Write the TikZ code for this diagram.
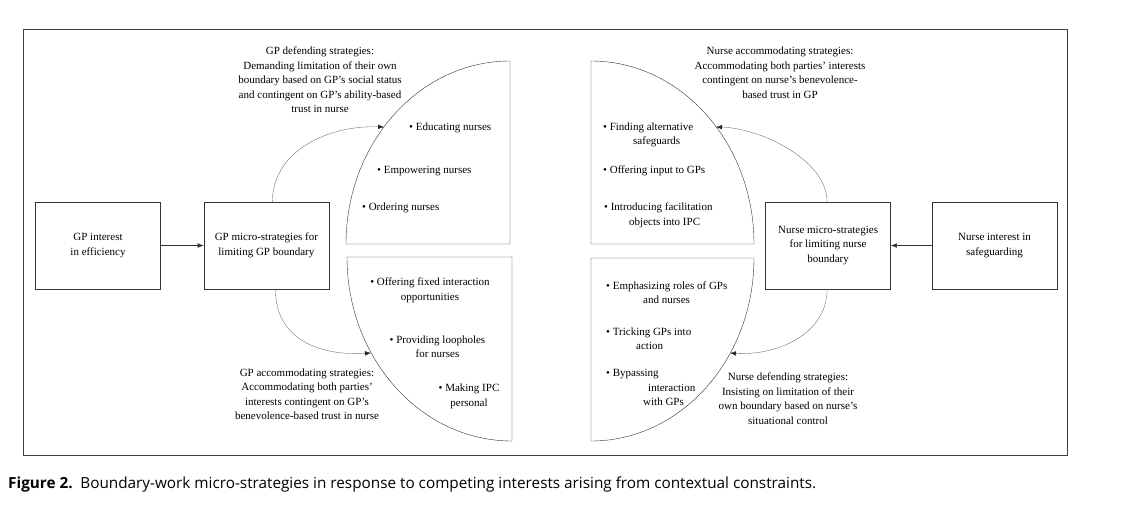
\documentclass[tikz,border=0pt]{standalone}
\usepackage{fontspec}
\setmainfont{Liberation Serif}
\newfontfamily\capfont{Open Sans}
\usetikzlibrary{positioning, arrows.meta}
\tikzstyle{box}=[rectangle, draw=black!80, minimum width=125pt, minimum height=87pt, align=center]
\tikzstyle{quarter}=[draw=black!80, line join=round]
\tikzstyle{lbl}=[align=center, inner sep=0pt]
\tikzstyle{strat}=[anchor=west, align=left, inner sep=0pt]
\tikzstyle{wire}=[draw=black!80, -{Latex[length=6pt,width=4.5pt]}]
\tikzstyle{swing}=[draw=black!55, -{Latex[length=6pt,width=4.5pt,color=black!85]}]

\begin{document}
\begin{tikzpicture}[x=1pt, y=-1pt, font=\fontsize{11}{14.5}\selectfont, node distance=43pt]
                \useasboundingbox (0,0) rectangle (1147,509);
                \draw[black!75, line width=0.8pt] (23,29) rectangle (1067,455);

                % Boites
                \node[box] (gpint) at (98,245.5) {GP interest\\in efficiency};
                \node[box, right=of gpint] (gpmicro) {GP micro-strategies for\\limiting GP boundary};
                \node[box] (nurseint) at (994.5,245.5) {Nurse interest in\\safeguarding};
                \node[box, left=41pt of nurseint] (nursemicro) {Nurse micro-strategies\\for limiting nurse\\boundary};
                \draw[wire] (gpint) -- (gpmicro);
                \draw[wire] (nurseint) -- (nursemicro);

                % Quarts
                \draw[quarter] (510,244) -- (346,244) arc[start angle=180, end angle=270, x radius=164, y radius=183] -- cycle;
                \draw[quarter] (512,257) -- (347,257) arc[start angle=180, end angle=90, x radius=165, y radius=184] -- cycle;
                \draw[quarter] (591,244) -- (754,244) arc[start angle=0, end angle=-90, x radius=163, y radius=183] -- cycle;
                \draw[quarter] (591,258) -- (754,258) arc[start angle=0, end angle=90, x radius=163, y radius=183] -- cycle;

                % Strategies GP
                \node[strat] (educ) at (409,128) {\textbullet\ Educating nurses};
                \node[strat] (empow) at (377,171) {\textbullet\ Empowering nurses};
                \node[strat] (order) at (362,208) {\textbullet\ Ordering nurses};
                \node[lbl] (fixed) at (430,290.5) {\textbullet\ Offering fixed interaction\\opportunities};
                \node[lbl] (loop) at (437.5,346.5) {\textbullet\ Providing loopholes\\for nurses};
                \node[lbl] (making) at (469,396.5) {\textbullet\ Making IPC\\personal};

                % Strategies infirmiere
                \node[strat] (finding) at (603,135) {\textbullet\ Finding alternative\\\hspace*{30pt}safeguards};
                \node[strat] (input) at (603,171) {\textbullet\ Offering input to GPs};
                \node[strat] (facil) at (604,215.5) {\textbullet\ Introducing facilitation\\\hspace*{25pt}objects into IPC};
                \node[strat] (roles) at (606,292.5) {\textbullet\ Emphasizing roles of GPs\\\hspace*{37pt}and nurses};
                \node[strat] (trick) at (606,338.5) {\textbullet\ Tricking GPs into\\\hspace*{30pt}action};
                \node[strat] (bypass) at (606,387.5) {\textbullet\ Bypassing\\\hspace*{42pt}interaction\\\hspace*{37pt}with GPs};

                % Fleches courbes
                \coordinate (gpdef) at (384,127);
                \coordinate (gpacc) at (371,353);
                \coordinate (nuacc) at (716,127);
                \coordinate (nudef) at (730,353);
                \draw[swing] ([xshift=6pt]gpmicro.north) .. controls +(0,-52) and +(-54,-2) .. (gpdef);
                \draw[swing] ([xshift=9pt]gpmicro.south) .. controls +(0,51) and +(-50,3) .. (gpacc);
                \draw[swing] ([xshift=-1pt]nursemicro.north) .. controls +(0,-42) and +(44,1) .. (nuacc);
                \draw[swing] ([xshift=-1pt]nursemicro.south) .. controls +(0,46) and +(45,3) .. (nudef);

                % Etiquettes
                \node[lbl] (gpdeflbl) at (320,80) {GP defending strategies:\\Demanding limitation of their own\\boundary based on GP’s social status\\and contingent on GP’s ability-based\\trust in nurse};
                \node[lbl] (nuacclbl) at (780,72.5) {Nurse accommodating strategies:\\Accommodating both parties’ interests\\contingent on nurse’s benevolence-\\based trust in GP};
                \node[lbl] (gpacclbl) at (307,394) {GP accommodating strategies:\\Accommodating both parties’\\interests contingent on GP’s\\benevolence-based trust in nurse};
                \node[lbl] (nudeflbl) at (788,398.5) {Nurse defending strategies:\\Insisting on limitation of their\\own boundary based on nurse’s\\situational control};

                \node[anchor=base west, inner sep=0pt, font=\capfont\fontsize{15.3}{18}\selectfont] (caption) at (8,488) {\textbf{Figure 2.}\enspace Boundary-work micro-strategies in response to competing interests arising from contextual constraints.};
            \end{tikzpicture}
\end{document}
